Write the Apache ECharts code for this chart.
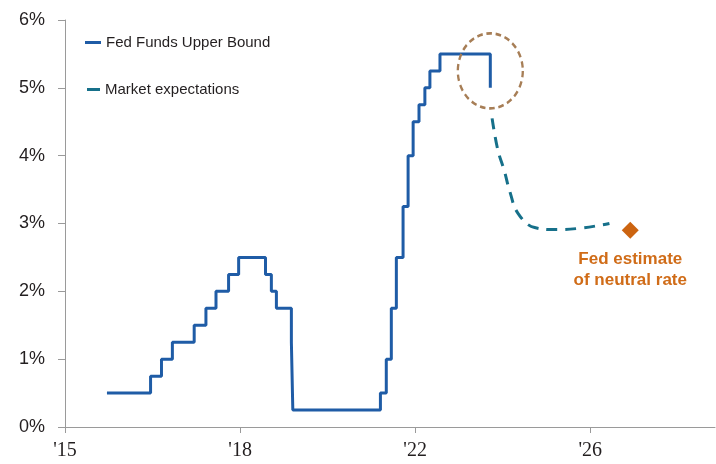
<!DOCTYPE html>
<html>
<head>
<meta charset="utf-8">
<script src="https://cdn.jsdelivr.net/npm/echarts@6/dist/echarts.min.js"></script>
<style>
  html, body { margin: 0; padding: 0; background: #fff; }
  #main { width: 716px; height: 464px; }
</style>
</head>
<body>
<div id="main"></div>
<script>
// x axis runs in years since 1 Jan 2015; labels as printed on the chart
const xTickLabels = ["'15", "'18", "'22", "'26"]
const yTickLabels = ['0%', '1%', '2%', '3%', '4%', '5%', '6%']

// Fed funds upper bound: date the new rate took effect, rate in %
const fedDates = [
  '2015-12-17', '2016-12-15', '2017-03-16', '2017-06-15', '2017-12-14',
  '2018-03-22', '2018-06-14', '2018-09-27', '2018-12-20', '2019-08-01',
  '2019-09-19', '2019-10-31', '2020-03-04', '2020-03-16', '2022-03-17',
  '2022-05-05', '2022-06-16', '2022-07-28', '2022-09-22', '2022-11-03',
  '2022-12-15', '2023-02-02', '2023-03-23', '2023-05-04', '2023-07-27',
  '2024-09-19'
]
const fedRates = [
  0.5, 0.75, 1.0, 1.25, 1.5,
  1.75, 2.0, 2.25, 2.5, 2.25,
  2.0, 1.75, 1.25, 0.25, 0.5,
  1.0, 1.75, 2.5, 3.25, 4.0,
  4.5, 4.75, 5.0, 5.25, 5.5,
  5.0
]

// market expectations path
const mktDates = [
  '2024-10-04', '2024-11-20', '2025-01-15', '2025-03-01', '2025-05-08',
  '2025-09-24', '2026-04-05', '2026-10-05', '2027-04-15', '2027-06-10'
]
const mktRates = [4.55, 4.09, 3.77, 3.47, 3.15, 2.94, 2.91, 2.93, 2.98, 3.0]

// Fed estimate of neutral rate
const neutralDate = '2027-12-01'
const neutralRate = 2.9

function toYears(s) {
  const p = s.split('-').map(Number)
  return (Date.UTC(p[0], p[1] - 1, p[2]) - Date.UTC(2015, 0, 1)) / (365.25 * 864e5)
}

const fedData = fedDates.map((d, i) => [toYears(d), fedRates[i]])
const mktData = mktDates.map((d, i) => [toYears(d), mktRates[i]])
const last = fedData.length - 1
// dashed circle around the latest move (centre of the last step)
const circleCoord = [fedData[last][0], (fedRates[last - 1] + fedRates[last]) / 2]

const chart = echarts.init(document.getElementById('main'))

const option = {
  animation: false,
  textStyle: { fontFamily: 'Liberation Sans' },
  grid: { left: 65, right: 1, top: 20, bottom: 37, containLabel: false },
  legend: [
    {
      left: 85, top: 35, padding: 0,
      itemWidth: 16, itemHeight: 3, icon: 'rect',
      data: ['Fed Funds Upper Bound'],
      textStyle: { fontSize: 15, color: '#231f20' }
    },
    {
      left: 87, top: 82, padding: 0,
      itemWidth: 13, itemHeight: 3, icon: 'rect',
      data: ['Market expectations'],
      textStyle: { fontSize: 15, color: '#231f20' }
    }
  ],
  xAxis: {
    type: 'value',
    min: 0, max: 14.85, interval: 4,
    axisLine: { lineStyle: { color: '#9a9a9a', width: 1 } },
    axisTick: { show: true, length: 6, lineStyle: { color: '#9a9a9a' } },
    splitLine: { show: false },
    axisLabel: {
      margin: 14,
      fontSize: 20,
      fontFamily: 'Liberation Serif',
      color: '#231f20',
      showMaxLabel: false,
      formatter: (v) => xTickLabels[Math.round(v / 4)] || ''
    }
  },
  yAxis: {
    type: 'value',
    min: 0, max: 6, interval: 1,
    axisLine: { show: true, lineStyle: { color: '#9a9a9a', width: 1 } },
    axisTick: { show: true, length: 7, lineStyle: { color: '#9a9a9a' } },
    splitLine: { show: false },
    axisLabel: {
      margin: 20,
      fontSize: 18,
      color: '#231f20',
      formatter: (v) => yTickLabels[Math.round(v)]
    }
  },
  series: [
    {
      name: 'Fed Funds Upper Bound',
      type: 'line',
      step: 'end',
      showSymbol: false,
      symbol: 'none',
      color: '#1f5ca6',
      lineStyle: { color: '#1f5ca6', width: 3 },
      data: fedData,
      markPoint: {
        silent: true,
        symbol: 'circle',
        symbolSize: [65, 75],
        label: { show: false },
        itemStyle: {
          color: 'rgba(0,0,0,0)',
          borderColor: '#a77e56',
          borderWidth: 2.5,
          borderType: [6, 4]
        },
        data: [{ coord: circleCoord }]
      }
    },
    {
      name: 'Market expectations',
      type: 'line',
      smooth: 0.4,
      showSymbol: false,
      symbol: 'none',
      color: '#16708a',
      lineStyle: { color: '#16708a', width: 3, type: [11, 8] },
      data: mktData
    },
    {
      name: 'Fed estimate of neutral rate',
      type: 'scatter',
      symbol: 'diamond',
      symbolSize: 17,
      itemStyle: { color: '#cc6410', opacity: 1 },
      label: {
        show: true,
        position: 'bottom',
        distance: 10,
        formatter: 'Fed estimate\nof neutral rate',
        color: '#d06c18',
        fontWeight: 'bold',
        fontSize: 17,
        lineHeight: 21,
        align: 'center'
      },
      data: [[toYears(neutralDate), neutralRate]]
    }
  ]
}

chart.setOption(option)
</script>
</body>
</html>
